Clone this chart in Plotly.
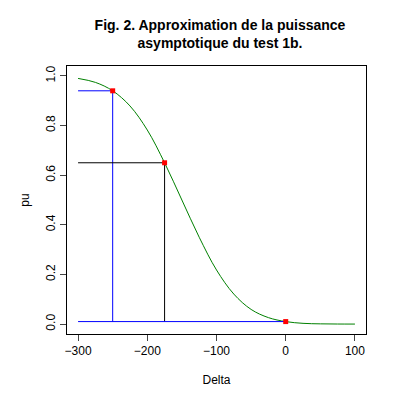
import plotly.graph_objects as go

delta = [-300,-275,-250,-225,-200,-175,-150,-125,-100,-75,-50,-25,0,25,50,75,100]
pu = [0.990,0.974,0.94,0.879,0.782,0.65,0.50,0.35,0.218,0.121,0.059,0.026,0.01,0.003,0.0009,0.0002,0.0]
pts_x = [-250,-175,0]
pts_y = [0.94,0.65,0.01]

fig = go.Figure()
fig.add_trace(go.Scatter(x=delta, y=pu, mode="lines", line=dict(color="green", width=1, shape="spline"), hoverinfo="skip"))
fig.add_trace(go.Scatter(x=[-300,-250], y=[0.94,0.94], mode="lines", line=dict(color="blue", width=1)))
fig.add_trace(go.Scatter(x=[-250,-250], y=[0.94,0.01], mode="lines", line=dict(color="blue", width=1)))
fig.add_trace(go.Scatter(x=[-300,-175], y=[0.65,0.65], mode="lines", line=dict(color="black", width=1)))
fig.add_trace(go.Scatter(x=[-175,-175], y=[0.65,0.01], mode="lines", line=dict(color="black", width=1)))
fig.add_trace(go.Scatter(x=[-300,0], y=[0.01,0.01], mode="lines", line=dict(color="blue", width=1)))
fig.add_trace(go.Scatter(x=pts_x, y=pts_y, mode="markers", marker=dict(color="red", symbol="square", size=5)))

ax = dict(showline=True, linecolor="black", linewidth=1, mirror=True, ticks="outside", ticklen=6,
          showgrid=False, zeroline=False, tickfont=dict(size=12, color="black"))
fig.update_layout(
    width=400, height=400, showlegend=False, plot_bgcolor="white", paper_bgcolor="white",
    font=dict(family="Liberation Sans, Arial", color="black"),
    margin=dict(l=59, r=42, t=58, b=74),
    title=dict(text="<b>Fig. 2. Approximation de la puissance<br>asymptotique du test 1b.</b>",
               x=0.53, xanchor="center", y=0.945, yanchor="top", font=dict(size=14)),
    xaxis=dict(ax, range=[-316,116], tickvals=[-300,-200,-100,0,100], title=dict(text="Delta", font=dict(size=12), standoff=18)),
    yaxis=dict(ax, range=[-0.04,1.04], tickvals=[0,0.2,0.4,0.6,0.8,1.0], ticktext=["0.0","0.2","0.4","0.6","0.8","1.0"],
               tickangle=-90, title=dict(text="pu", font=dict(size=12), standoff=12)),
)
fig.write_html("out.html")
